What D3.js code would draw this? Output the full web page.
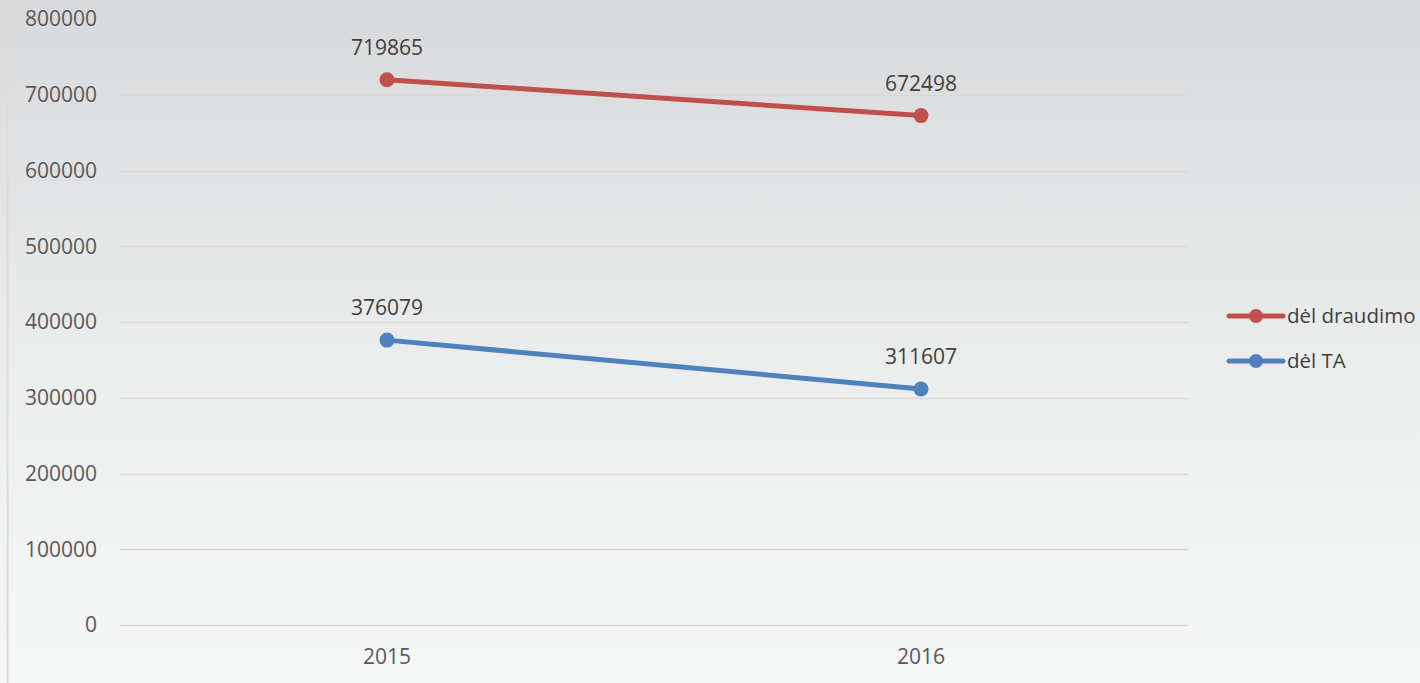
<!DOCTYPE html>
<html>
<head>
<meta charset="utf-8">
<script src="https://cdn.jsdelivr.net/npm/d3@7"></script>
<style>
  body { margin: 0; }
  svg { display: block; font-family: "Open Sans", sans-serif; }
</style>
</head>
<body>
<svg id="chart" width="1420" height="683"></svg>
<script>
var width = 1420;
var height = 683;

var years = ["2015", "2016"];
var seriesNames = ["dėl draudimo", "dėl TA"];
var draudimo = [719865, 672498];
var ta = [376079, 311607];
var yTicks = [0, 100000, 200000, 300000, 400000, 500000, 600000, 700000, 800000];
var colors = ["#c0504d", "#4f81bd"];

var svg = d3.select("#chart");

// background gradient
var defs = svg.append("defs");
var grad = defs.append("linearGradient").attr("id", "bg")
  .attr("x1", 0).attr("y1", 0).attr("x2", 0).attr("y2", 1);
grad.append("stop").attr("offset", "0%").attr("stop-color", "#d8d9db");
grad.append("stop").attr("offset", "55%").attr("stop-color", "#eceded");
grad.append("stop").attr("offset", "100%").attr("stop-color", "#f6f7f7");
svg.append("rect").attr("width", width).attr("height", height).attr("fill", "url(#bg)");
svg.append("line").attr("x1", 7.5).attr("x2", 7.5).attr("y1", 0).attr("y2", height)
  .attr("stroke", "#dcdcdc").attr("stroke-width", 2);

var x = d3.scaleBand().domain(years).range([120, 1188]);
var y = d3.scaleLinear().domain([0, 800000]).range([625, 19]);

// gridlines
svg.append("g").selectAll("line")
  .data(yTicks.filter(function(d) { return d < 800000; }))
  .enter().append("line")
  .attr("x1", 120).attr("x2", 1188)
  .attr("y1", function(d) { return Math.round(y(d)) + 0.5; })
  .attr("y2", function(d) { return Math.round(y(d)) + 0.5; })
  .attr("stroke", "#d9d9d9").attr("stroke-width", 1.5);

// y labels
svg.append("g").selectAll("text").data(yTicks).enter().append("text")
  .attr("x", 97).attr("y", function(d) { return y(d); })
  .attr("dy", "0.35em").attr("text-anchor", "end")
  .attr("font-size", 21).attr("fill", "#595959")
  .text(function(d) { return d; });

// x labels
svg.append("g").selectAll("text").data(years).enter().append("text")
  .attr("x", function(d) { return x(d) + x.bandwidth() / 2; })
  .attr("y", 657).attr("dy", "0.35em").attr("text-anchor", "middle")
  .attr("font-size", 21).attr("fill", "#595959")
  .text(function(d) { return d; });

var series = [draudimo, ta];
var line = d3.line()
  .x(function(d, i) { return x(years[i]) + x.bandwidth() / 2; })
  .y(function(d) { return y(d); });

series.forEach(function(vals, s) {
  var g = svg.append("g");
  g.append("path").datum(vals).attr("d", line)
    .attr("fill", "none").attr("stroke", colors[s]).attr("stroke-width", 5)
    .attr("stroke-linecap", "round");
  g.selectAll("circle").data(vals).enter().append("circle")
    .attr("cx", function(d, i) { return x(years[i]) + x.bandwidth() / 2; })
    .attr("cy", function(d) { return y(d); })
    .attr("r", 7.5).attr("fill", colors[s]);
  g.selectAll("text").data(vals).enter().append("text")
    .attr("x", function(d, i) { return x(years[i]) + x.bandwidth() / 2; })
    .attr("y", function(d) { return y(d) - 32; })
    .attr("dy", "0.35em").attr("text-anchor", "middle")
    .attr("font-size", 21).attr("fill", "#404040")
    .text(function(d) { return d; });
});

// legend
var legend = svg.append("g").selectAll("g").data(seriesNames).enter().append("g")
  .attr("transform", function(d, i) { return "translate(0," + (316 + i * 45) + ")"; });
legend.append("line").attr("x1", 1229).attr("x2", 1283).attr("y1", 0).attr("y2", 0)
  .attr("stroke", function(d, i) { return colors[i]; }).attr("stroke-width", 5)
  .attr("stroke-linecap", "round");
legend.append("circle").attr("cx", 1256).attr("cy", 0).attr("r", 7)
  .attr("fill", function(d, i) { return colors[i]; });
legend.append("text").attr("x", 1287).attr("y", 0).attr("dy", "0.35em")
  .attr("font-size", 20.5).attr("fill", "#404040")
  .text(function(d) { return d; });
</script>
</body>
</html>
